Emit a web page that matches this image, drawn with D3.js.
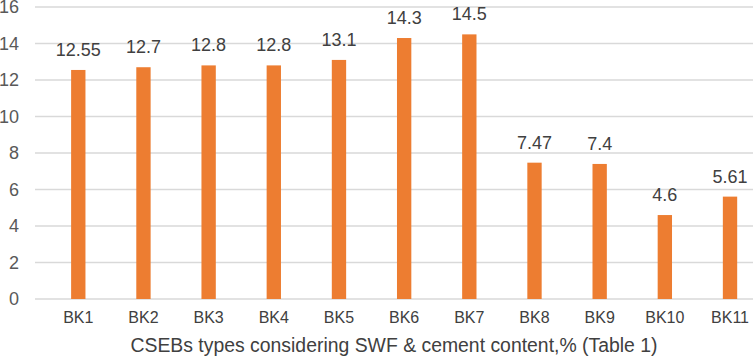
<html>
<head>
<script src="https://d3js.org/d3.v7.min.js"></script>
<style>
  body { margin: 0; background: #fff; }
  text { font-family: "Liberation Sans", Arial, sans-serif; }
</style>
</head>
<body>
<svg id="chart" width="753" height="356"></svg>
<script>
// data
const blocks = ['BK1', 'BK2', 'BK3', 'BK4', 'BK5', 'BK6', 'BK7', 'BK8', 'BK9', 'BK10', 'BK11'];
const strength = [12.55, 12.7, 12.8, 12.8, 13.1, 14.3, 14.5, 7.47, 7.4, 4.6, 5.61];
const valueLabels = ['12.55', '12.7', '12.8', '12.8', '13.1', '14.3', '14.5', '7.47', '7.4', '4.6', '5.61'];
const yTicks = [0, 2, 4, 6, 8, 10, 12, 14, 16];
const xTitle = 'CSEBs types considering SWF & cement content,% (Table 1)';

const data = blocks.map((b, i) => ({ name: b, v: strength[i], label: valueLabels[i] }));

const svg = d3.select('svg#chart');

const x = d3.scaleBand().domain(blocks).range([45.7, 762.6]).paddingInner(0.78).paddingOuter(0.39);
const y = d3.scaleLinear().domain([0, 16]).range([299, 7]);

// gridlines
svg.append('g').selectAll('line').data(yTicks)
  .join('line')
  .attr('x1', 35).attr('x2', 753)
  .attr('y1', d => y(d)).attr('y2', d => y(d))
  .attr('stroke', '#d9d9d9').attr('stroke-width', 1.3);

// y tick labels (top one is cut by the image edge, as in the source)
svg.append('g').selectAll('text').data(yTicks)
  .join('text')
  .attr('x', 19).attr('y', d => y(d))
  .attr('dy', '0.36em')
  .attr('text-anchor', 'end')
  .attr('font-size', 18)
  .attr('fill', '#595959')
  .text(d => d);

// bars
svg.append('g').selectAll('rect').data(data)
  .join('rect')
  .attr('x', d => x(d.name))
  .attr('width', x.bandwidth())
  .attr('y', d => y(d.v))
  .attr('height', d => y(0) - y(d.v))
  .attr('fill', '#ED7D31');

// value labels
svg.append('g').selectAll('text').data(data)
  .join('text')
  .attr('x', d => x(d.name) + x.bandwidth() / 2)
  .attr('y', d => y(d.v) - 14)
  .attr('text-anchor', 'middle')
  .attr('font-size', 18)
  .attr('fill', '#404040')
  .text(d => d.label);

// category labels
svg.append('g').selectAll('text').data(data)
  .join('text')
  .attr('x', d => x(d.name) + x.bandwidth() / 2)
  .attr('y', 323)
  .attr('text-anchor', 'middle')
  .attr('font-size', 16)
  .attr('fill', '#404040')
  .text(d => d.name);

// axis title
svg.append('text')
  .attr('x', 394).attr('y', 352)
  .attr('text-anchor', 'middle')
  .attr('font-size', 19.4)
  .attr('fill', '#404040')
  .text(xTitle);
</script>
</body>
</html>
